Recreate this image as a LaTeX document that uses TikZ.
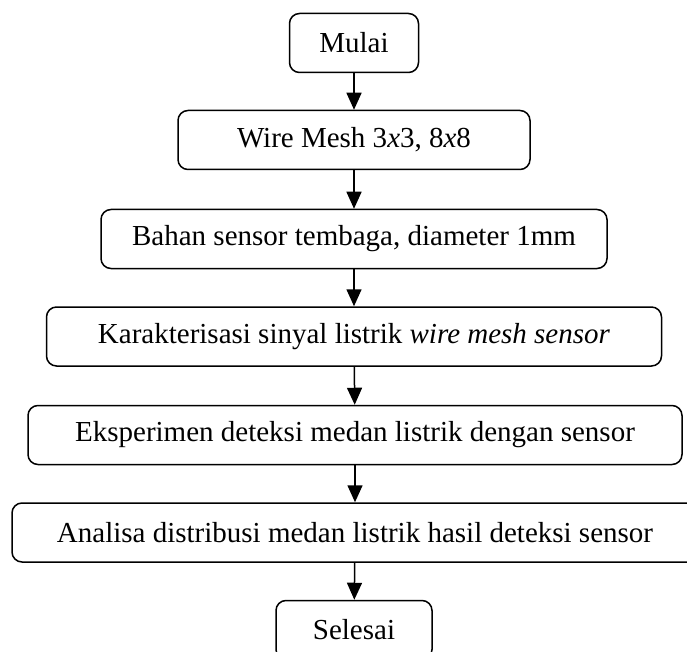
\documentclass[tikz,border=0pt]{standalone}
\usepackage{fontspec}
\setmainfont{Liberation Serif}
\usetikzlibrary{arrows.meta}

\begin{document}
\begin{tikzpicture}[
    x=1pt, y=1pt,
    box/.style={rectangle, draw, rounded corners=10pt, line width=1.5pt, minimum height=59pt, align=center, font=\fontsize{29}{34}\selectfont},
    arrow/.style={-{Triangle[length=17pt,width=15pt]}, line width=1.5pt}
]
\useasboundingbox (0,0) rectangle (687,-652);

% Steps
\node[box, minimum width=129pt] (mulai) at (354,-43) {Mulai};
\node[box, minimum width=352pt] (mesh) at (354,-140) {Wire Mesh 3\textit{x}3, 8\textit{x}8};
\node[box, minimum width=506pt] (bahan) at (354,-239) {Bahan sensor tembaga, diameter 1mm};
\node[box, minimum width=615pt] (karak) at (354,-336.5) {Karakterisasi sinyal listrik \textit{wire mesh sensor}};
\node[box, minimum width=654pt] (eksp) at (355,-435) {Eksperimen deteksi medan listrik dengan sensor};
\node[box, minimum width=686pt] (analisa) at (355,-532.5) {Analisa distribusi medan listrik hasil deteksi sensor};
\node[box, minimum width=156pt] (selesai) at (354,-630) {Selesai};

% Flow
\draw[arrow] (mulai) -- (mesh);
\draw[arrow] (mesh) -- (bahan);
\draw[arrow] (bahan) -- (karak);
\draw[arrow] (karak) -- (eksp);
\draw[arrow] (eksp) -- (analisa);
\draw[arrow] (analisa) -- (selesai);

\end{tikzpicture}
\end{document}
